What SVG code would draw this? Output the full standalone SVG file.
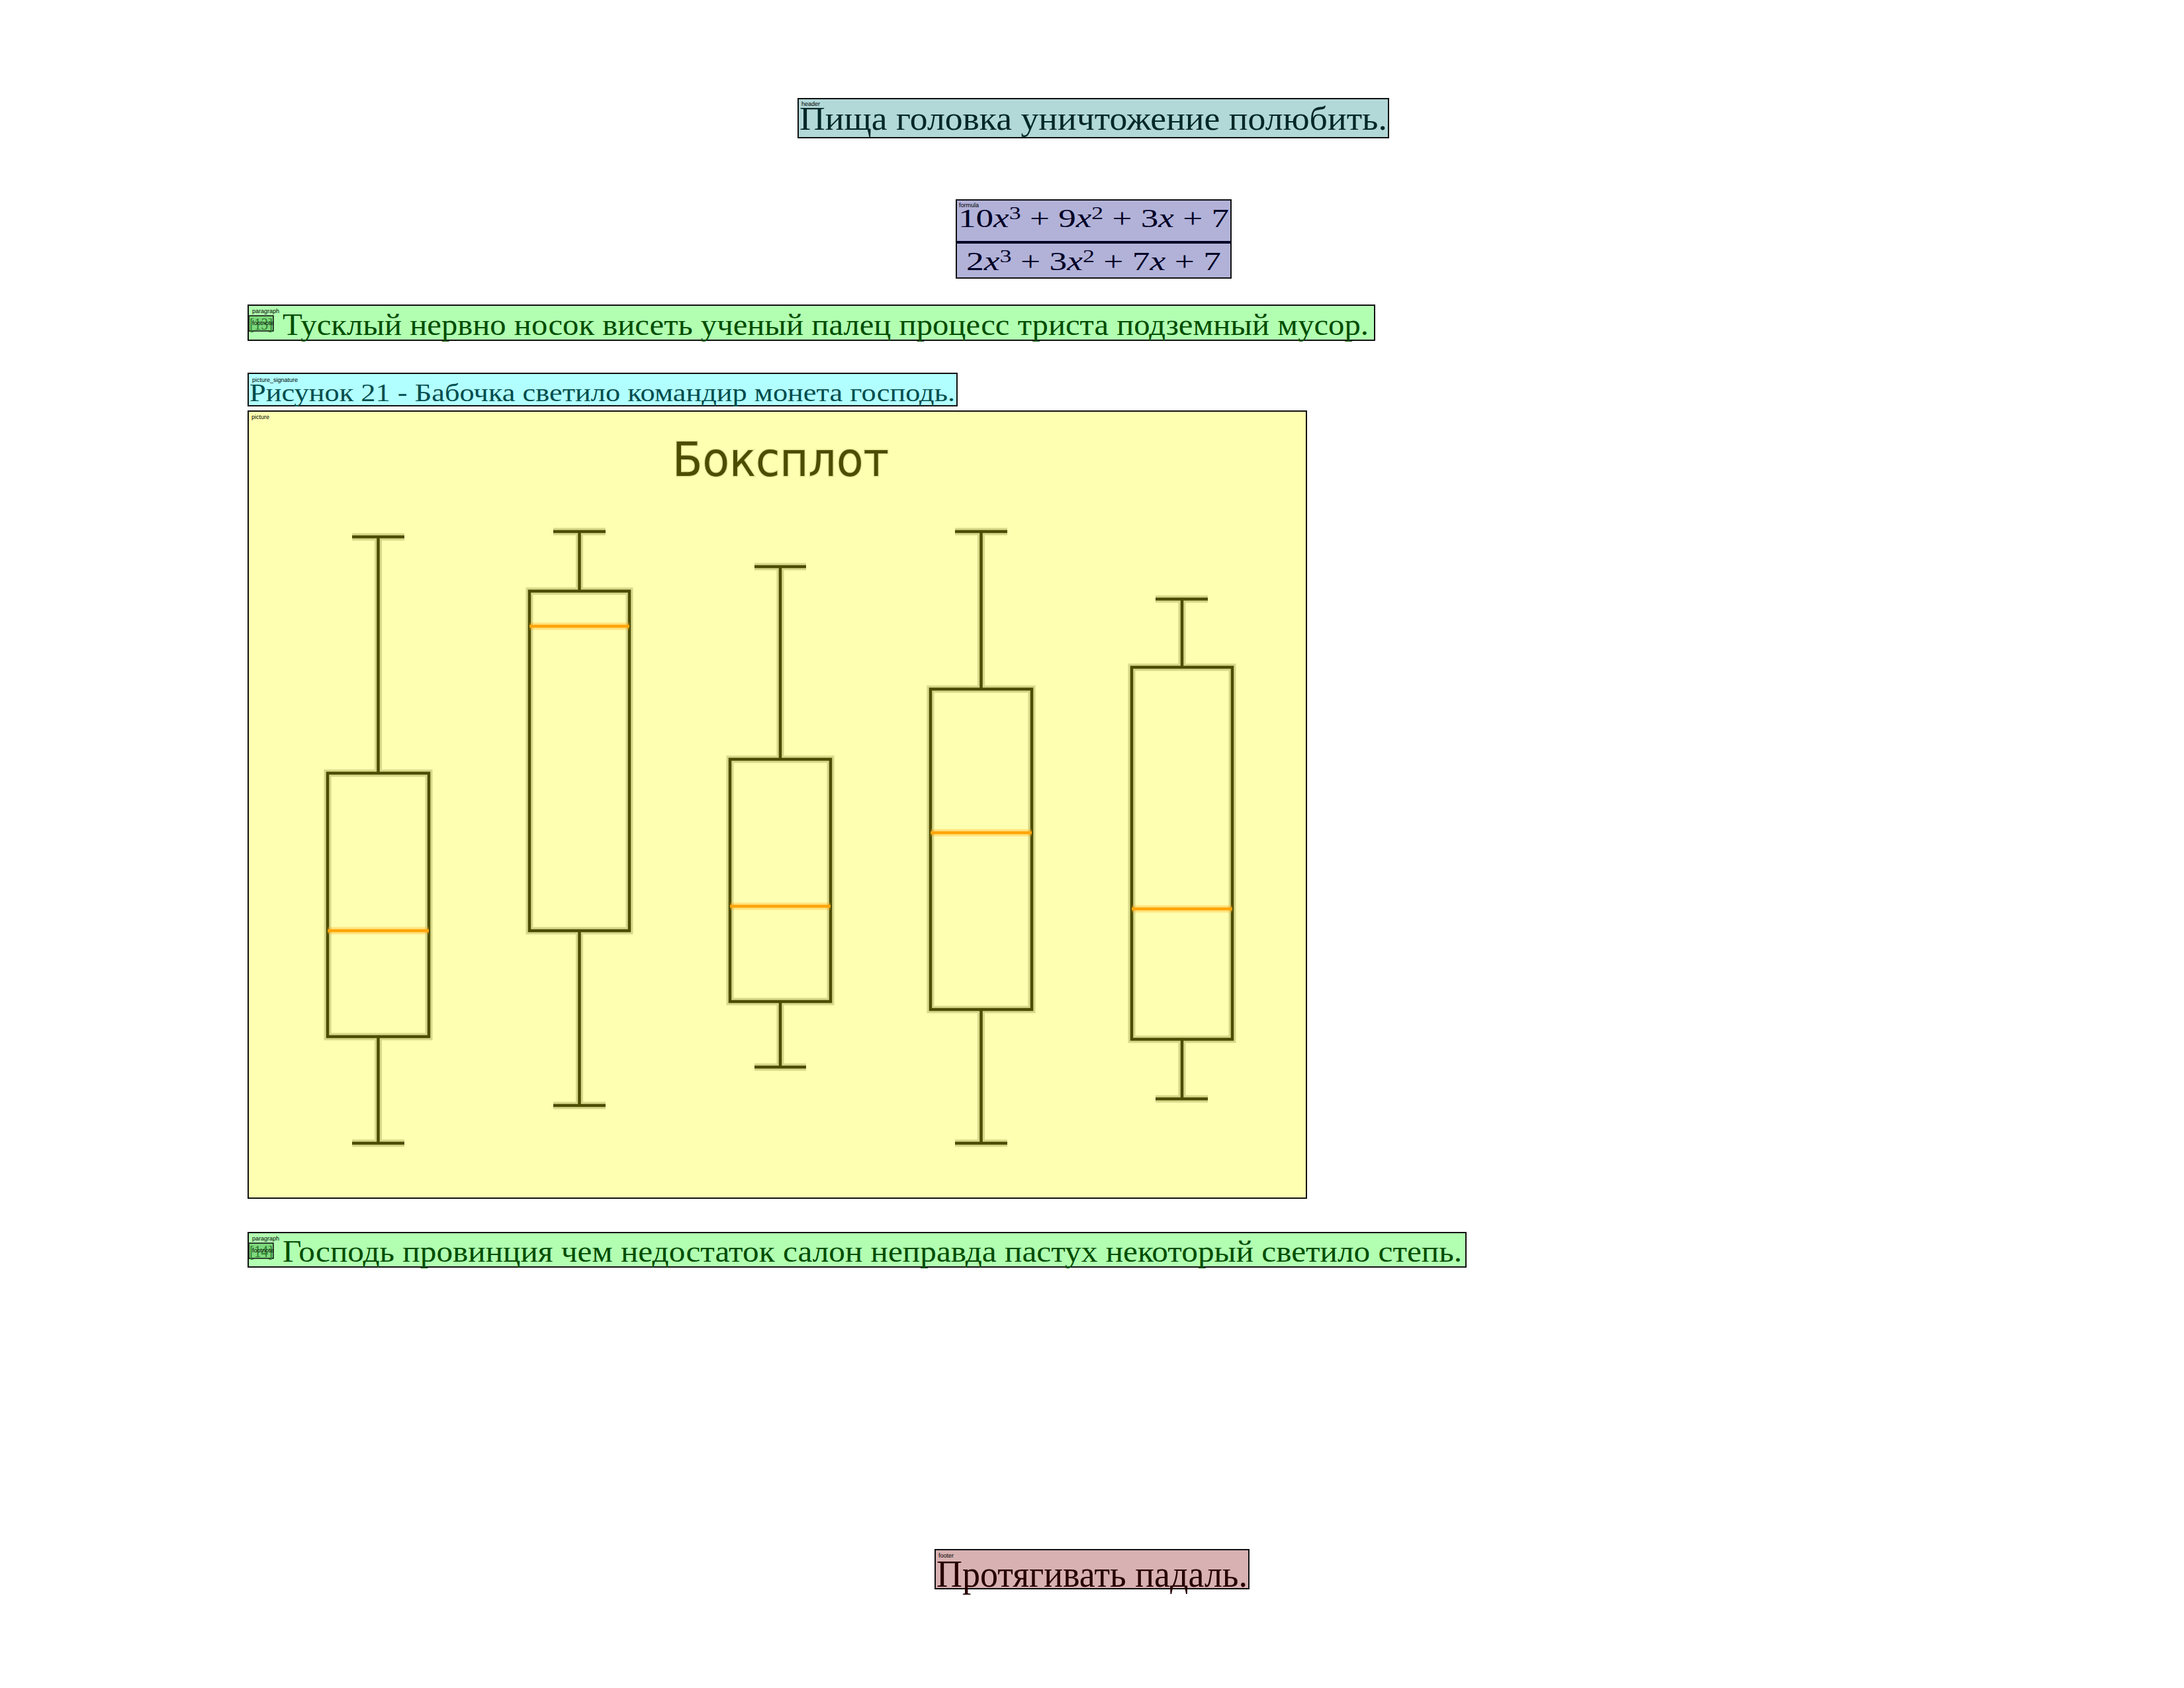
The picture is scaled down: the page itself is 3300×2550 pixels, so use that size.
<svg xmlns="http://www.w3.org/2000/svg" width="3300" height="2550" viewBox="0 0 3300 2550">
<style>
.frame{stroke:#111;stroke-width:2}
.lbl{font-family:"Liberation Sans",Arial,sans-serif;font-size:9px;fill:#000}
.serif{font-family:"Liberation Serif","Times New Roman",serif}
.halo{fill:none;stroke:#4d4d00;stroke-opacity:0.22;stroke-width:11}
.core{fill:none;stroke:#4d4d00;stroke-width:4.5}
.mhalo{fill:none;stroke:#ffa50a;stroke-opacity:0.3;stroke-width:11}
.mcore{fill:none;stroke:#ffa50a;stroke-width:4.5}
.fn{fill:#7dd97d;stroke:#111;stroke-width:1.5}
.fntext{font-family:"Liberation Serif","Times New Roman",serif;font-size:26px;fill:#2f7a2f}
</style>
<defs>
<g id="bp">
<path d="M532,811H611M571.5,811V1168M495,1168H648V1566H495ZM571.5,1566V1727M532,1727H611"/>
<path d="M836,803H915M875.5,803V893M800,893H951V1406H800ZM875.5,1406V1670M836,1670H915"/>
<path d="M1140,856H1218M1179,856V1147M1103,1147H1255V1513H1103ZM1179,1513V1612M1140,1612H1218"/>
<path d="M1443,803H1522M1482.5,803V1041M1406,1041H1559V1525H1406ZM1482.5,1525V1727M1443,1727H1522"/>
<path d="M1746,905H1825M1786,905V1008M1710,1008H1862V1570H1710ZM1786,1570V1660M1746,1660H1825"/>
</g>
<path id="med" d="M495,1406H648M800,946H951M1103,1369H1255M1406,1258H1559M1710,1373H1862"/>
</defs>
<rect width="3300" height="2550" fill="#fff"/>

<g id="header">
<rect class="frame" x="1206" y="149" width="892" height="59" fill="#b2d8d8"/>
<text class="serif" x="1208" y="196" font-size="50" fill="#002626" textLength="888" lengthAdjust="spacingAndGlyphs">Пища головка уничтожение полюбить.</text>
<text class="lbl" x="1211" y="160">header</text>
</g>

<g id="formula">
<rect class="frame" x="1445" y="302" width="415" height="118" fill="#b2b2d8"/>
<line x1="1445" y1="366" x2="1860" y2="366" stroke="#000026" stroke-width="4"/>
<text class="serif" x="1448" y="343" font-size="40" fill="#000026" textLength="409" lengthAdjust="spacingAndGlyphs">10<tspan font-style="italic">x</tspan><tspan font-size="27" dy="-12">3</tspan><tspan dy="12"> + 9</tspan><tspan font-style="italic">x</tspan><tspan font-size="27" dy="-12">2</tspan><tspan dy="12"> + 3</tspan><tspan font-style="italic">x</tspan> + 7</text>
<text class="serif" x="1460" y="408" font-size="40" fill="#000026" textLength="385" lengthAdjust="spacingAndGlyphs">2<tspan font-style="italic">x</tspan><tspan font-size="27" dy="-12">3</tspan><tspan dy="12"> + 3</tspan><tspan font-style="italic">x</tspan><tspan font-size="27" dy="-12">2</tspan><tspan dy="12"> + 7</tspan><tspan font-style="italic">x</tspan> + 7</text>
<text class="lbl" x="1449" y="313">formula</text>
</g>

<g id="paragraph1">
<rect class="frame" x="375" y="461" width="1702" height="53" fill="#b2ffb2"/>
<text class="serif" x="427" y="506" font-size="46" fill="#004d00" textLength="1641" lengthAdjust="spacingAndGlyphs">Тусклый нервно носок висеть ученый палец процесс триста подземный мусор.</text>
<g id="footnote1">
<rect class="fn" x="376" y="477" width="37" height="23"/>
<text class="fntext" x="377" y="498" textLength="35" lengthAdjust="spacingAndGlyphs">[13]</text>
<text class="lbl" x="381" y="491">footnote</text>
</g>
<text class="lbl" x="381" y="473">paragraph</text>
</g>

<g id="picture_signature">
<rect class="frame" x="375" y="564" width="1071" height="49" fill="#b2ffff"/>
<text class="serif" x="377" y="606" font-size="38" fill="#004d4d" textLength="1066" lengthAdjust="spacingAndGlyphs">Рисунок 21 - Бабочка светило командир монета господь.</text>
<text class="lbl" x="381" y="577">picture_signature</text>
</g>

<g id="picture">
<rect class="frame" x="375" y="621" width="1599" height="1189" fill="#ffffb2"/>
<text x="1016" y="719" font-family="DejaVu Sans,Verdana,sans-serif" font-size="72" fill="#4d4d00" stroke="#4d4d00" stroke-opacity="0.15" stroke-width="3" textLength="327" lengthAdjust="spacingAndGlyphs">Боксплот</text>
<use href="#bp" class="halo"/>
<use href="#bp" class="core"/>
<use href="#med" class="mhalo"/>
<use href="#med" class="mcore"/>
<text class="lbl" x="380" y="633">picture</text>
</g>

<g id="paragraph2">
<rect class="frame" x="375" y="1862" width="1840" height="52" fill="#b2ffb2"/>
<text class="serif" x="427" y="1906" font-size="46" fill="#004d00" textLength="1782" lengthAdjust="spacingAndGlyphs">Господь провинция чем недостаток салон неправда пастух некоторый светило степь.</text>
<g id="footnote2">
<rect class="fn" x="376" y="1878" width="37" height="23"/>
<text class="fntext" x="377" y="1899" textLength="35" lengthAdjust="spacingAndGlyphs">[14]</text>
<text class="lbl" x="381" y="1892">footnote</text>
</g>
<text class="lbl" x="381" y="1874">paragraph</text>
</g>

<g id="footer">
<rect class="frame" x="1413" y="2341" width="474" height="59" fill="#d8b2b2"/>
<text class="serif" x="1415" y="2397" font-size="58" fill="#260000" textLength="470" lengthAdjust="spacingAndGlyphs">Протягивать падаль.</text>
<text class="lbl" x="1418" y="2353">footer</text>
</g>

<g id="connectors"/>
</svg>
